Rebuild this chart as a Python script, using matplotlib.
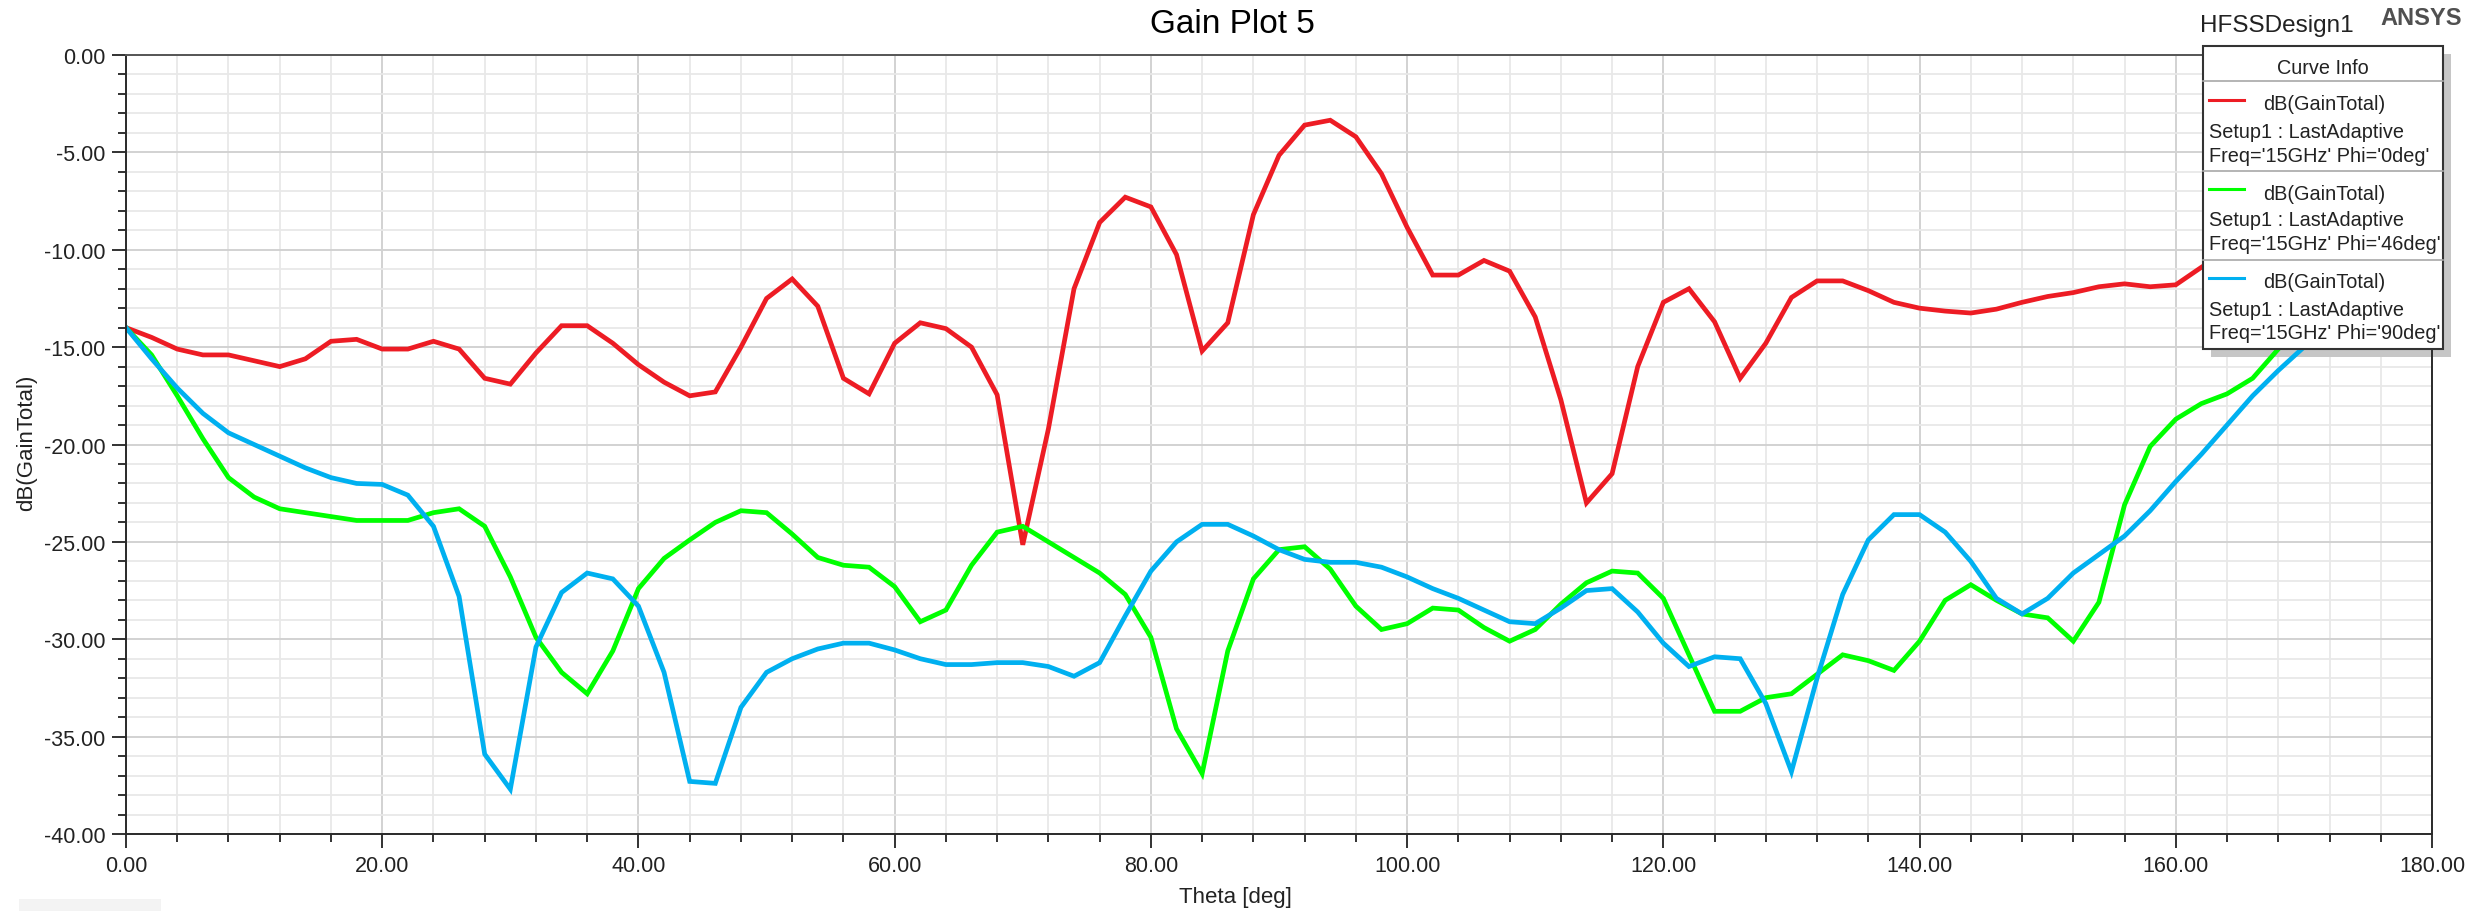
#! /usr/bin/env python3
# %%

import numpy as np
from matplotlib import pyplot as plt
from matplotlib.patches import Rectangle
from matplotlib.lines import Line2D
from matplotlib.ticker import MultipleLocator, FormatStrFormatter

# ==== DATA ====

theta_0 = np.arange(0, 166, 2)
gain_0 = [
    -14.0, -14.5, -15.1, -15.4, -15.4, -15.7, -16.0, -15.6, -14.7, -14.6,
    -15.1, -15.1, -14.7, -15.1, -16.6, -16.9, -15.3, -13.9, -13.9, -14.8,
    -15.9, -16.8, -17.5, -17.3, -15.0, -12.5, -11.5, -12.9, -16.6, -17.4,
    -14.8, -13.75, -14.05, -15.0, -17.45, -25.15, -19.2, -12.0, -8.6, -7.3,
    -7.8, -10.25, -15.2, -13.75, -8.2, -5.15, -3.6, -3.35, -4.2, -6.1,
    -8.85, -11.3, -11.3, -10.55, -11.1, -13.45, -17.7, -23.0, -21.5, -16.0,
    -12.7, -12.0, -13.7, -16.6, -14.8, -12.45, -11.6, -11.6, -12.1, -12.7,
    -13.0, -13.15, -13.25, -13.05, -12.7, -12.4, -12.2, -11.9, -11.75, -11.9,
    -11.8, -10.9, -10.1,
]

theta_46 = np.arange(0, 172, 2)
gain_46 = [
    -14.0, -15.4, -17.5, -19.7, -21.7, -22.7, -23.3, -23.5, -23.7, -23.9,
    -23.9, -23.9, -23.5, -23.3, -24.2, -26.8, -29.9, -31.7, -32.8, -30.6,
    -27.4, -25.85, -24.9, -24.0, -23.4, -23.5, -24.6, -25.8, -26.2, -26.3,
    -27.3, -29.1, -28.5, -26.2, -24.5, -24.2, -25.0, -25.8, -26.6, -27.7,
    -29.9, -34.6, -36.9, -30.6, -26.9, -25.4, -25.25, -26.4, -28.3, -29.5,
    -29.2, -28.4, -28.5, -29.4, -30.1, -29.5, -28.2, -27.1, -26.5, -26.6,
    -27.9, -30.8, -33.7, -33.7, -33.0, -32.8, -31.8, -30.8, -31.1, -31.6,
    -30.1, -28.0, -27.2, -28.0, -28.7, -28.9, -30.1, -28.1, -23.1, -20.1,
    -18.7, -17.9, -17.4, -16.6, -15.1, -13.4,
]

theta_90 = np.arange(0, 174, 2)
gain_90 = [
    -14.0, -15.6, -17.1, -18.4, -19.4, -20.0, -20.6, -21.2, -21.7, -22.0,
    -22.05, -22.6, -24.2, -27.8, -35.9, -37.7, -30.4, -27.6, -26.6, -26.9,
    -28.3, -31.7, -37.3, -37.4, -33.5, -31.7, -31.0, -30.5, -30.2, -30.2,
    -30.55, -31.0, -31.3, -31.3, -31.2, -31.2, -31.4, -31.9, -31.2, -28.8,
    -26.5, -25.0, -24.1, -24.1, -24.7, -25.4, -25.9, -26.05, -26.05, -26.3,
    -26.8, -27.4, -27.9, -28.5, -29.1, -29.2, -28.4, -27.5, -27.4, -28.6,
    -30.2, -31.4, -30.9, -31.0, -33.3, -36.8, -32.0, -27.7, -24.9, -23.6,
    -23.6, -24.5, -26.0, -27.9, -28.7, -27.9, -26.6, -25.65, -24.7, -23.4,
    -21.9, -20.5, -19.0, -17.5, -16.2, -15.0, -13.8,
]

curves = [
    (theta_0, gain_0, '#ED1C24', "Phi='0deg'"),
    (theta_46, gain_46, '#00FF00', "Phi='46deg'"),
    (theta_90, gain_90, '#00B0F0', "Phi='90deg'"),
]

# ==== PLOT ====

plt.rcParams['font.family'] = ['Liberation Sans', 'DejaVu Sans']

W, H = 2483, 912
fig = plt.figure(figsize=(W / 100, H / 100), dpi=100)
ax = fig.add_axes([126 / W, 1 - 835 / H, (2432 - 126) / W, (835 - 56) / H])

# pixel -> figure fraction helpers
def fx(x):
    return x / W

def fy(y):
    return 1 - y / H

for th, g, color, _ in curves:
    ax.plot(th, g, color=color, lw=3.4, solid_joinstyle='miter', zorder=2)

ax.set_xlim(0, 180)
ax.set_ylim(-40, 0)
ax.xaxis.set_major_locator(MultipleLocator(20))
ax.xaxis.set_minor_locator(MultipleLocator(4))
ax.yaxis.set_major_locator(MultipleLocator(5))
ax.yaxis.set_minor_locator(MultipleLocator(1))
ax.xaxis.set_major_formatter(FormatStrFormatter('%.2f'))
ax.yaxis.set_major_formatter(FormatStrFormatter('%.2f'))

ax.grid(which='major', color='#d2d2d2', lw=1.4, zorder=0)
ax.grid(which='minor', color='#e8e8e8', lw=1.3, zorder=0)
ax.set_axisbelow(True)

ax.tick_params(which='major', direction='out', length=10, width=1.3,
               color='#222222', labelsize=15.5, labelcolor='#222222', pad=5)
ax.tick_params(which='minor', direction='out', length=5.5, width=1.3,
               color='#222222')
for side in ['left', 'bottom', 'right', 'top']:
    ax.spines[side].set_color('#2a2a2a')
    ax.spines[side].set_linewidth(1.4)
ax.spines['top'].set_color('#555555')

fig.text(fx(1235), fy(898), 'Theta [deg]', ha='center', va='center', fontsize=16, color='#222222')
fig.text(fx(27), fy(443), 'dB(GainTotal)', ha='center', va='center', rotation=90, fontsize=16, color='#222222')

fig.text(fx(1232), fy(33), 'Gain Plot 5', ha='center', va='baseline', fontsize=24)
fig.text(fx(2200), fy(32), 'HFSSDesign1', ha='left', va='baseline', fontsize=17.5, color='#222222')
fig.text(fx(2380), fy(25), 'ANSYS', ha='left', va='baseline', fontsize=17, fontweight='bold', color='#505050')

# Curve Info box (shadow sits under the traces, box over them)
box_l, box_r, box_t, box_b = 2203, 2443, 47, 350
ax.add_patch(Rectangle((fx(box_l + 8), fy(box_b + 8)), (box_r - box_l) / W, (box_b - box_t) / H,
                       transform=fig.transFigure, facecolor='#c6c6c6', edgecolor='none',
                       clip_on=False, zorder=1))
ax.add_patch(Rectangle((fx(box_l), fy(box_b)), (box_r - box_l) / W, (box_b - box_t) / H,
                       transform=fig.transFigure, facecolor='white', edgecolor='#333333',
                       lw=1.5, clip_on=False, zorder=10))
ax.text(fx((box_l + box_r) / 2), fy(69), 'Curve Info', transform=fig.transFigure,
        ha='center', va='center', fontsize=14.3, color='#222222', zorder=11)
for y in [82, 172, 261]:
    ax.add_line(Line2D([fx(box_l), fx(box_r)], [fy(y), fy(y)], transform=fig.transFigure,
                       color='#a8a8a8', lw=1.2, clip_on=False, zorder=11))

for i, (_, _, color, phi) in enumerate(curves):
    y0 = 89 * i
    ax.add_line(Line2D([fx(2209), fx(2244)], [fy(101 + y0), fy(101 + y0)], transform=fig.transFigure,
                       color=color, lw=2.2, clip_on=False, zorder=11))
    ax.text(fx(2263), fy(105 + y0), 'dB(GainTotal)', transform=fig.transFigure,
            ha='left', va='center', fontsize=14.3, color='#222222', zorder=11)
    ax.text(fx(2209), fy(132 + y0), 'Setup1 : LastAdaptive', transform=fig.transFigure,
            ha='left', va='center', fontsize=14.3, color='#222222', zorder=11)
    ax.text(fx(2209), fy(156 + y0), "Freq='15GHz' " + phi, transform=fig.transFigure,
            ha='left', va='center', fontsize=14.3, color='#222222', zorder=11)

# small grey panel in the lower left corner
fig.add_artist(Rectangle((fx(19), 0), (161 - 19) / W, (H - 900) / H,
                         transform=fig.transFigure, facecolor='#f3f3f3', edgecolor='none'))

fig.savefig('out.png', dpi=100)
